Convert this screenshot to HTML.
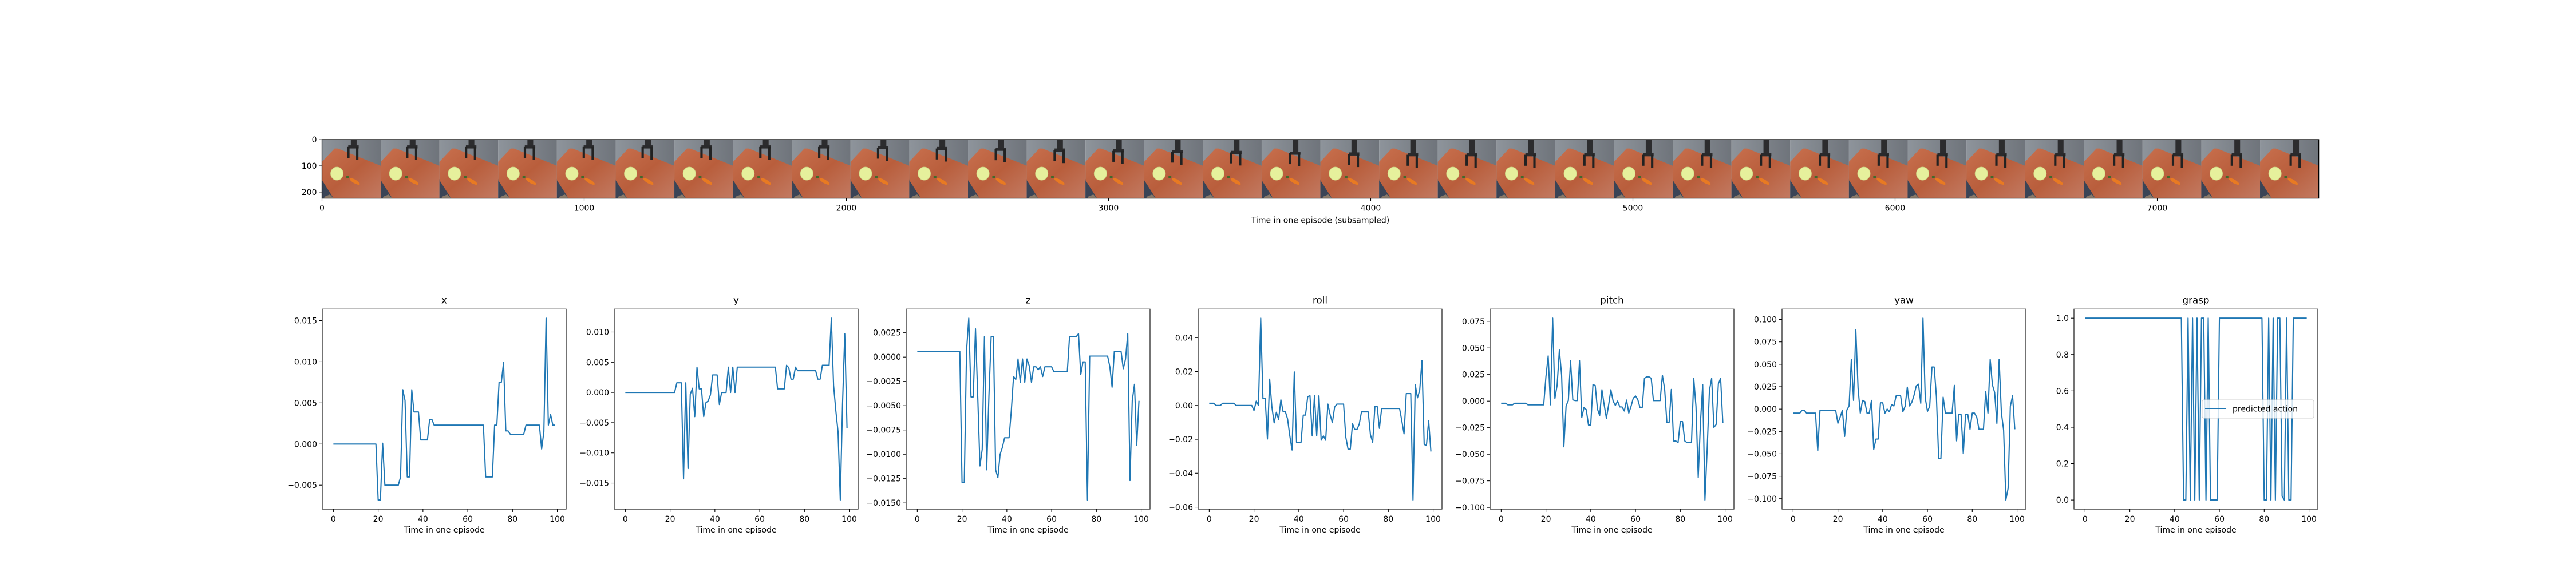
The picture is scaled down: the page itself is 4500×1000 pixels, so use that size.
<!DOCTYPE html>
<html><head><meta charset="utf-8"><style>
html,body{margin:0;padding:0;background:#fff;}
svg{display:block;font-family:"DejaVu Sans","Liberation Sans",sans-serif;}
</style></head><body>
<svg id="fig" width="4500" height="1000" viewBox="0 0 4500 1000" xmlns="http://www.w3.org/2000/svg">
<defs>
<linearGradient id="tableGrad" x1="0" y1="0" x2="1" y2="1">
<stop offset="0" stop-color="#c8704e"/><stop offset="0.5" stop-color="#b95e3c"/><stop offset="1" stop-color="#c27a62"/>
</linearGradient>
<linearGradient id="wallGrad" x1="0" y1="0" x2="1" y2="0">
<stop offset="0" stop-color="#8e949b"/><stop offset="1" stop-color="#6f747b"/>
</linearGradient>
</defs>
<rect width="4500" height="1000" fill="#fff"/>
<g id="strip"></g>
<g id="panels"></g>
</svg>
<script>
// ---- data ----
const stripXTicks = [0,1000,2000,3000,4000,5000,6000,7000];
const stripYTicks = [0,100,200];
const frameCount = 34;
const frameSize = 224;

const steps = Array.from({length:100},(_,i)=>i);
const xTickVals = [0,20,40,60,80,100];

const xData = [0,0,0,0,0,0,0,0,0,0,0,0,0,0,0,0,0,0,0,0,
-0.0068,-0.0068,0.0001,-0.005,-0.005,-0.005,-0.005,-0.005,-0.005,-0.005,
-0.004,0.0066,0.0053,-0.004,-0.004,0.0066,0.0039,0.0039,0.0039,0.0005,
0.0005,0.0005,0.0005,0.003,0.003,0.0023,0.0023,0.0023,0.0023,0.0023,
0.0023,0.0023,0.0023,0.0023,0.0023,0.0023,0.0023,0.0023,0.0023,0.0023,
0.0023,0.0023,0.0023,0.0023,0.0023,0.0023,0.0023,0.0023,-0.004,-0.004,
-0.004,-0.004,0.0023,0.0023,0.0075,0.0075,0.0099,0.0016,0.0016,0.0012,
0.0012,0.0012,0.0012,0.0012,0.0012,0.0012,0.0023,0.0023,0.0023,0.0023,
0.0023,0.0023,0.0023,-0.0006,0.0015,0.0153,0.0023,0.0036,0.0023,0.0023];
const yData = [0,0,0,0,0,0,0,0,0,0,0,0,0,0,0,0,0,0,0,0,
0,0,0,0.0016,0.0016,0.0016,-0.0143,0.0016,-0.0126,-0.0003,
0.0007,-0.004,0.0042,0.0006,0.0006,-0.004,-0.0017,-0.0014,-0.0004,0.0029,
0.0029,0.0029,-0.002,0,0,0,0.0042,0,0.0042,0,
0.0042,0.0042,0.0042,0.0042,0.0042,0.0042,0.0042,0.0042,0.0042,0.0042,
0.0042,0.0042,0.0042,0.0042,0.0042,0.0042,0.0042,0.0042,0.0006,0.0006,
0.0006,0.0006,0.0045,0.0041,0.0022,0.0022,0.0042,0.0036,0.0036,0.0036,
0.0036,0.0036,0.0036,0.0036,0.0036,0.0036,0.0022,0.0022,0.0045,0.0045,
0.0045,0.0045,0.0123,0.0012,-0.003,-0.0065,-0.0178,-0.002,0.0097,-0.0059];
const zData = [0.0006,0.0006,0.0006,0.0006,0.0006,0.0006,0.0006,0.0006,0.0006,0.0006,
0.0006,0.0006,0.0006,0.0006,0.0006,0.0006,0.0006,0.0006,0.0006,0.0006,
-0.0129,-0.0129,0.0006,0.004,-0.0041,-0.0041,0.0029,-0.004,-0.0112,-0.0095,
0.0021,-0.0116,-0.004,0.0021,0.0021,-0.0116,-0.0124,-0.01,-0.0093,-0.0083,
-0.0083,-0.0083,-0.0055,-0.002,-0.0023,-0.0002,-0.0026,-0.0002,-0.0026,-0.0002,
-0.0009,-0.0026,-0.001,-0.001,-0.0013,-0.001,-0.002,-0.001,-0.001,-0.001,
-0.001,-0.0015,-0.0015,-0.0015,-0.0015,-0.0015,-0.0015,-0.0015,0.0021,0.0021,
0.0021,0.0021,0.0024,-0.0018,-0.0005,-0.0005,-0.0147,0.0001,0.0001,0.0001,
0.0001,0.0001,0.0001,0.0001,0.0001,0.0001,-0.001,-0.0031,0.0006,0.0006,
0.0006,0.0006,-0.0012,-0.0002,0.0024,-0.0127,-0.0045,-0.0028,-0.0091,-0.0045];
const rollData = [0.0013,0.0013,0.0013,0,0,0,0.0013,0.0013,0.0013,0.0013,
0.0013,0.0013,0,0,0,0,0,0,0,0,
-0.003,0.0025,0,0.0515,0.004,0.004,-0.0198,0.0155,-0.001,-0.0103,
-0.004,-0.0083,0.0033,-0.0037,-0.0037,-0.008,-0.018,-0.0263,0.0198,-0.0218,
-0.0218,-0.0218,-0.0057,-0.0057,0.0052,0.0057,-0.018,0.0057,-0.018,0.0057,
-0.0205,-0.018,-0.0205,0.0008,-0.0055,-0.0102,-0.001,0.0008,0.0008,0.0008,
0.0008,-0.0188,-0.0258,-0.0258,-0.0108,-0.0142,-0.0142,-0.011,-0.0038,-0.0038,
-0.0038,-0.0038,-0.0173,-0.0218,-0.0005,-0.0005,-0.0135,-0.0018,-0.0018,-0.0018,
-0.0018,-0.0018,-0.0018,-0.0018,-0.0018,-0.0018,-0.009,-0.0168,0.007,0.007,
0.007,-0.0558,0.0123,0.0045,0.009,0.0265,-0.023,-0.0237,-0.009,-0.0272];
const pitchData = [-0.002,-0.002,-0.002,-0.0035,-0.0035,-0.0035,-0.002,-0.002,-0.002,-0.002,
-0.002,-0.002,-0.0035,-0.0035,-0.0035,-0.0035,-0.0035,-0.0035,-0.0035,-0.0035,
0.023,0.0425,-0.0035,0.078,0.0025,0.015,0.048,0.0245,-0.043,-0.0045,
0.0005,0.038,0.0012,0.0005,0.0005,0.038,-0.0155,-0.006,-0.008,-0.0225,
-0.0225,0.0155,0.0147,-0.0075,-0.0135,0.0107,-0.0035,-0.0162,-0.0035,0.0107,
0,-0.004,0,-0.0055,-0.0055,-0.0093,0.001,-0.0113,-0.005,0.0028,
0.0048,0.0015,-0.006,-0.006,0.0215,0.0228,0.0228,0.0215,0.0005,0.0005,
0.0005,0.0005,0.0243,0.0115,-0.0202,-0.0202,0.011,-0.0375,-0.0375,-0.039,
-0.0193,-0.0193,-0.0375,-0.039,-0.039,-0.039,0.0215,-0.005,-0.0718,-0.02,
0.0155,-0.093,-0.045,0.01,0.0215,-0.0247,-0.022,0.0163,0.0215,-0.0208];
const yawData = [-0.0045,-0.0045,-0.0045,-0.0045,-0.0013,-0.0013,-0.0045,-0.0045,-0.0045,-0.0045,
-0.0045,-0.0465,-0.0013,-0.0013,-0.0013,-0.0013,-0.0013,-0.0013,-0.0013,-0.0013,
-0.0158,-0.009,-0.0013,-0.0305,-0.001,0.0035,0.0555,0.0097,0.0888,0.0235,
-0.0045,0.0097,0.0085,-0.0045,-0.0045,0.0097,-0.045,-0.0335,-0.0335,0.007,
0.007,-0.0045,0,-0.003,0.005,0.0035,0.0148,0.0148,0.0148,-0.003,
0.003,0.0245,0.0035,0.0075,0.0155,0.026,0.0278,0.0065,0.1015,0.0125,
-0.0025,0.003,0.047,0.047,0.0135,-0.055,-0.055,0.0133,-0.0045,-0.0045,
-0.0045,-0.0045,0.0265,-0.0355,-0.006,-0.006,-0.0498,-0.006,-0.006,-0.0225,
-0.0045,-0.0045,-0.009,-0.0225,-0.0225,-0.0225,0.0198,-0.0045,0.0555,0.027,
0.0185,-0.016,0.0555,-0.004,-0.0235,-0.1015,-0.0885,0.003,0.015,-0.0225];
const graspData = [1,1,1,1,1,1,1,1,1,1,1,1,1,1,1,1,1,1,1,1,
1,1,1,1,1,1,1,1,1,1,1,1,1,1,1,1,1,1,1,1,
1,1,1,1,0,0,1,0,1,0,1,0,1,1,0,1,0,0,0,0,
1,1,1,1,1,1,1,1,1,1,1,1,1,1,1,1,1,1,1,1,
0,0,1,0,1,0,1,1,0.02,0,1,0,0,1,1,1,1,1,1,1];

const xTicks = [-0.005,0,0.005,0.010,0.015];
const yTicks = [-0.015,-0.010,-0.005,0,0.005,0.010];
const zTicks = [-0.015,-0.0125,-0.01,-0.0075,-0.005,-0.0025,0,0.0025];
const rollTicks = [-0.06,-0.04,-0.02,0,0.02,0.04];
const pitchTicks = [-0.1,-0.075,-0.05,-0.025,0,0.025,0.05,0.075];
const yawTicks = [-0.1,-0.075,-0.05,-0.025,0,0.025,0.05,0.075,0.1];
const graspTicks = [0,0.2,0.4,0.6,0.8,1.0];

const panelTitles = ["x","y","z","roll","pitch","yaw","grasp"];
const panelSeries = [xData,yData,zData,rollData,pitchData,yawData,graspData];
const panelTicks = [xTicks,yTicks,zTicks,rollTicks,pitchTicks,yawTicks,graspTicks];
const panelDecimals = [3,3,4,2,3,3,1];

const NS = "http://www.w3.org/2000/svg";
function mk(tag, attrs, parent){
  const e = document.createElementNS(NS, tag);
  for (const k in attrs) e.setAttribute(k, attrs[k]);
  parent.appendChild(e); return e;
}
function fmt(v,d){ const s = Math.abs(v).toFixed(d); return (v < -1e-12 ? "\u2212" : "") + s; }

// ---- image strip ----
const strip = document.getElementById('strip');
const SX0 = 562.5, SY0 = 244, SU = 0.458;
for (let f=0; f<frameCount; f++){
  const g = mk('g', {transform:`translate(${SX0 + f*frameSize*SU},${SY0}) scale(${SU})`}, strip);
  
  
  mk('rect',{x:0,y:0,width:224,height:224,fill:'url(#wallGrad)'},g);
  mk('polygon',{points:'0,150 0,224 44,224',fill:'#3a4456'},g);
  mk('polygon',{points:'0,85 48,34 60,34 224,100 224,224 44,224 0,155',fill:'url(#tableGrad)'},g);
  mk('polygon',{points:'10,218 30,210 44,224 8,224',fill:'#8a7a6a'},g);
  mk('ellipse',{cx:57,cy:130,rx:24,ry:25,fill:'#e6f09c',stroke:'#cfd986','stroke-width':2},g);
  mk('ellipse',{cx:125,cy:160,rx:22,ry:7,fill:'#e87a22',transform:'rotate(30 125 160)'},g);
  mk('ellipse',{cx:98,cy:143,rx:6,ry:5,fill:'#3f6a2a'},g);
  const drop = f>8 ? Math.min(f-8,10)*3 : 0;
  const gx = 100 + f*0.5;
  mk('rect',{x:gx+10,y:0,width:22,height:26+drop,fill:'#2c2c2e'},g);
  mk('rect',{x:gx,y:22+drop,width:40,height:12,fill:'#2a2a2c'},g);
  mk('rect',{x:gx-4,y:28+drop,width:9,height:42,fill:'#222'},g);
  mk('rect',{x:gx+30,y:28+drop,width:9,height:50,fill:'#222'},g);
}
const SW = frameCount*frameSize*SU, SH = frameSize*SU;
const sframe = mk('rect',{x:SX0,y:SY0,width:SW,height:SH,fill:'none',stroke:'#000','stroke-width':1.3},strip);


stripXTicks.forEach(v=>{
  const x = SX0 + v*SU;
  mk('line',{x1:x,x2:x,y1:SY0+SH,y2:SY0+SH+5,stroke:'#000','stroke-width':1.1},strip);
  const t = mk('text',{x:x,y:SY0+SH+22,'font-size':14,'text-anchor':'middle'},strip);
  
  
  t.textContent = v;
});
stripYTicks.forEach(v=>{
  const y = SY0 + (v+0.5)*SU;
  mk('line',{x1:SX0-5,x2:SX0,y1:y,y2:y,stroke:'#000','stroke-width':1.1},strip);
  const t = mk('text',{x:SX0-9,y:y+5,'font-size':14,'text-anchor':'end'},strip);
  
  
  t.textContent = v;
});
const sl = mk('text',{x:SX0+SW/2,y:SY0+SH+43,'font-size':14,'text-anchor':'middle'},strip);


sl.textContent = 'Time in one episode (subsampled)';

// ---- panels ----
const panels = document.getElementById('panels');
const PX0 = 563, PW = 426, PGAP = 510, PT = 540.3, PB = 890;
const xmin = -4.95, xmax = 103.95;
panelTitles.forEach((name, k)=>{
  const data = panelSeries[k];
  const g = mk('g',{},panels);
  
  
  const L = PX0 + k*PGAP, R = L + PW;
  let mn = Math.min(...data), mx = Math.max(...data);
  const pad = (mx-mn)*0.05; mn -= pad; mx += pad;
  const sx = v => L + (v-xmin)/(xmax-xmin)*PW;
  const sy = v => PB - (v-mn)/(mx-mn)*(PB-PT);
  xTickVals.forEach(v=>{
    const x = sx(v);
    mk('line',{x1:x,x2:x,y1:PB,y2:PB+5,stroke:'#000','stroke-width':1.1},g);
    const t = mk('text',{x:x,y:PB+22,'font-size':14,'text-anchor':'middle'},g);
    
    
    t.textContent = v;
  });
  panelTicks[k].forEach(v=>{
    if (v < mn || v > mx) return;
    const y = sy(v);
    mk('line',{x1:L-5,x2:L,y1:y,y2:y,stroke:'#000','stroke-width':1.1},g);
    const t = mk('text',{x:L-9,y:y+5,'font-size':14,'text-anchor':'end'},g);
    
    
    t.textContent = fmt(v, panelDecimals[k]);
  });
  const pts = data.map((v,i)=> sx(steps[i]).toFixed(2)+','+sy(v).toFixed(2)).join(' ');
  const line = mk('polyline',{points:pts,fill:'none',stroke:'#1f77b4','stroke-width':2.1,'stroke-linejoin':'round'},g);
  
  
  const fr = mk('rect',{x:L,y:PT,width:PW,height:PB-PT,fill:'none',stroke:'#000','stroke-width':1.1},g);
  
  
  const tt = mk('text',{x:(L+R)/2,y:PT-10,'font-size':16.7,'text-anchor':'middle'},g);
  
  
  tt.textContent = name;
  const xl = mk('text',{x:(L+R)/2,y:PB+41,'font-size':14,'text-anchor':'middle'},g);
  
  
  xl.textContent = 'Time in one episode';
  if (name === 'grasp'){
    const lg = mk('g',{},g);
    
    
    mk('rect',{x:3847,y:699,width:195,height:32,rx:3,fill:'#fff','fill-opacity':0.8,stroke:'#d0d0d0','stroke-width':1},lg);
    mk('line',{x1:3852,x2:3888,y1:714,y2:714,stroke:'#1f77b4','stroke-width':2.1},lg);
    const lt = mk('text',{x:3900,y:719.5,'font-size':14},lg);
    
    
    lt.textContent = 'predicted action';
  }
});
</script>
</body></html>
